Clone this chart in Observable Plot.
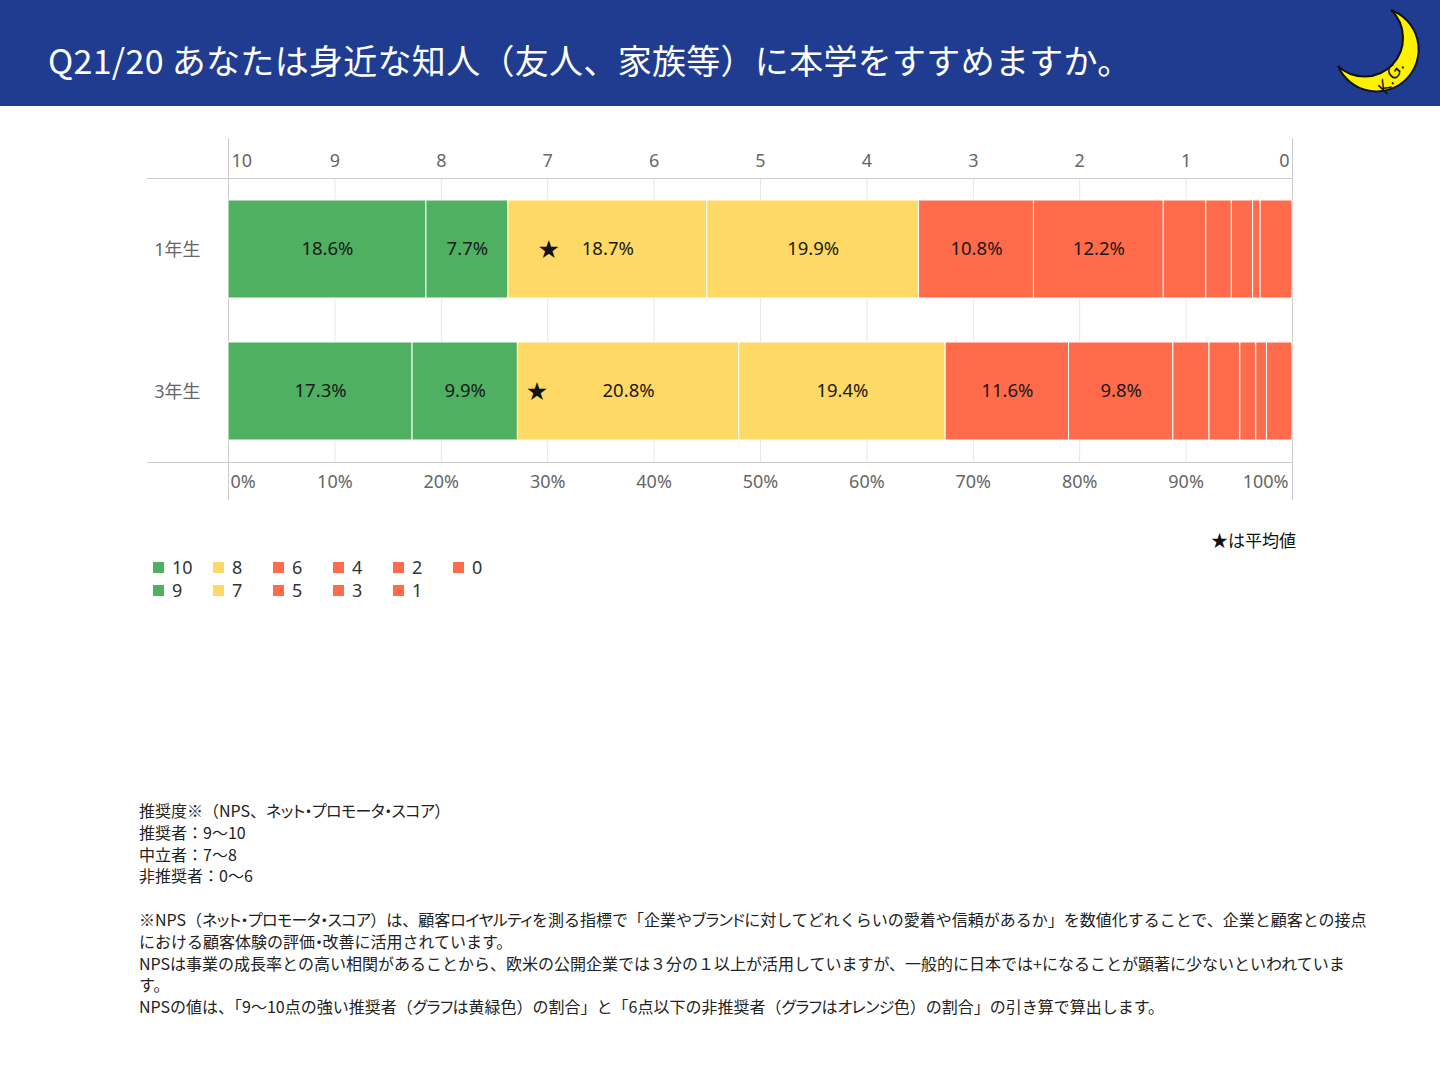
<!DOCTYPE html>
<html>
<head>
<meta charset="utf-8">
<script src="https://cdn.jsdelivr.net/npm/d3@7"></script>
<script src="https://cdn.jsdelivr.net/npm/@observablehq/plot@0.6"></script>
<style>
  html, body { margin: 0; padding: 0; background: #fff; }
  body { width: 1440px; height: 1080px; position: relative; overflow: hidden;
         font-family: "Noto Sans", "Noto Sans CJK JP", sans-serif; }
  #header { position: absolute; left: 0; top: 0; width: 1440px; height: 106px; background: #1f3c91; }
  #title { position: absolute; left: 48px; top: 36px; line-height: 48px; font-size: 34px; letter-spacing: 0.3px; color: #fff;
           font-family: "Noto Sans CJK JP", sans-serif; white-space: nowrap; }
  #logo { position: absolute; left: 0; top: 0; }
  #chart { position: absolute; left: 0; top: 120px; }
  #avgnote { position: absolute; right: 144px; top: 528px; font-size: 17px; line-height: 24px; color: #111;
             font-family: "Noto Sans CJK JP", sans-serif; }
  #legend { position: absolute; left: 153px; top: 556px; }
  .lg { position: absolute; font-size: 18px; line-height: 22px; color: #333; white-space: nowrap; }
  .lg i { display: inline-block; width: 11px; height: 11px; margin-right: 8px; vertical-align: 1px; }
  #notes { position: absolute; left: 139px; top: 800px; font-size: 16px; line-height: 21.8px; color: #222;
           font-family: "Noto Sans CJK JP", sans-serif; }
  #notes div { white-space: nowrap; min-height: 21.8px; }
  #notes .k { font-feature-settings: "palt"; letter-spacing: -0.6px; }
</style>
</head>
<body>
<div id="header">
  <div id="title"></div>
  <svg id="logo" width="1440" height="106">
    <path d="M1391,10 A42,42 0 1 1 1338,66 A38,38 0 0 0 1391,10 Z" fill="#fff200" stroke="#111" stroke-width="2"/>
    <text x="1396" y="80" transform="rotate(-58 1396 80)" font-family="DejaVu Sans" font-size="17" font-style="italic" fill="#111" text-anchor="middle">K.G.</text>
  </svg>
</div>
<div id="chart"></div>
<div id="avgnote">★は平均値</div>
<div id="legend"></div>
<div id="notes"></div>
<script>
// ---- data ----
const titleText = "Q21/20 あなたは身近な知人（友人、家族等）に本学をすすめますか。";
const grades = ["1年生", "3年生"];
const scores = [10, 9, 8, 7, 6, 5, 4, 3, 2, 1, 0];
const values1 = [18.6, 7.7, 18.7, 19.9, 10.8, 12.2, 4.0, 2.4, 2.0, 0.7, 3.0];
const values3 = [17.3, 9.9, 20.8, 19.4, 11.6, 9.8, 3.4, 2.9, 1.5, 1.0, 2.4];
const averages = [6.99, 7.10];
const tickPositions = [0, 10, 20, 30, 40, 50, 60, 70, 80, 90, 100];
const topTickLabels = ["10", "9", "8", "7", "6", "5", "4", "3", "2", "1", "0"];
const bottomTickLabels = ["0%", "10%", "20%", "30%", "40%", "50%", "60%", "70%", "80%", "90%", "100%"];
const avgNote = "★は平均値";
const noteLines = [
  "推奨度※（NPS、ネット・プロモータ・スコア）",
  "推奨者：9～10",
  "中立者：7～8",
  "非推奨者：0～6",
  "",
  "※NPS（ネット・プロモータ・スコア）は、顧客ロイヤルティを測る指標で「企業やブランドに対してどれくらいの愛着や信頼があるか」を数値化することで、企業と顧客との接点",
  "における顧客体験の評価・改善に活用されています。",
  "NPSは事業の成長率との高い相関があることから、欧米の公開企業では３分の１以上が活用していますが、一般的に日本では+になることが顕著に少ないといわれていま",
  "す。",
  "NPSの値は、「9～10点の強い推奨者（グラフは黄緑色）の割合」と「6点以下の非推奨者（グラフはオレンジ色）の割合」の引き算で算出します。"
];

const GREEN = "#4fb062", YELLOW = "#ffd966", RED = "#ff6b4b";
const colorOf = s => s >= 9 ? GREEN : s >= 7 ? YELLOW : RED;

const rows = grades.flatMap((g, gi) => scores.map((s, si) => ({grade: g, score: s, value: [values1, values3][gi][si]})));
const avgRows = grades.map((g, i) => ({grade: g, avg: averages[i]}));
const ticks = tickPositions.map((p, i) => ({p, top: topTickLabels[i], bottom: bottomTickLabels[i]}));
const tMid = ticks.slice(1, -1), tFirst = ticks.slice(0, 1), tLast = ticks.slice(-1);

document.getElementById("title").textContent = titleText;
document.getElementById("avgnote").textContent = avgNote;

const tickStyle = {fill: "#666", fontSize: 18};
const chart = Plot.plot({
  width: 1440,
  height: 400,
  marginLeft: 228,
  marginRight: 148,
  marginTop: 58,
  marginBottom: 58,
  style: {fontFamily: "'Noto Sans', 'Noto Sans CJK JP', sans-serif", background: "white"},
  x: {domain: [0, 100], axis: null},
  y: {domain: grades, paddingInner: 0.31, paddingOuter: 0.155, label: null},
  marks: [
    Plot.ruleX(tMid, {x: "p", stroke: "#e6e6e6"}),
    Plot.frame({anchor: "top", insetLeft: -81, stroke: "#cccccc"}),
    Plot.frame({anchor: "bottom", insetLeft: -81, stroke: "#cccccc"}),
    Plot.ruleX([0, 100], {insetTop: -40, insetBottom: -38, stroke: "#cccccc"}),
    Plot.barX(rows, {x: "value", y: "grade", fill: d => colorOf(d.score), stroke: "white", strokeWidth: 1}),
    Plot.text(rows, Plot.stackX({x: "value", y: "grade", text: d => d.value >= 5 ? d.value.toFixed(1) + "%" : null, fill: "#1a1a1a", fontSize: 18.5})),
    Plot.text(avgRows, {x: d => (10 - d.avg) * 10, y: "grade", text: () => "★", fill: "#111", fontSize: 25, fontFamily: "DejaVu Sans"}),
    Plot.text(tMid, {x: "p", text: "top", frameAnchor: "top", dy: -24, ...tickStyle}),
    Plot.text(tFirst, {x: "p", text: "top", frameAnchor: "top", dy: -24, dx: 3, textAnchor: "start", ...tickStyle}),
    Plot.text(tLast, {x: "p", text: "top", frameAnchor: "top", dy: -24, dx: -3, textAnchor: "end", ...tickStyle}),
    Plot.text(tMid, {x: "p", text: "bottom", frameAnchor: "bottom", dy: 25, ...tickStyle}),
    Plot.text(tFirst, {x: "p", text: "bottom", frameAnchor: "bottom", dy: 25, dx: 2, textAnchor: "start", ...tickStyle}),
    Plot.text(tLast, {x: "p", text: "bottom", frameAnchor: "bottom", dy: 25, dx: -4, textAnchor: "end", ...tickStyle}),
    Plot.axisY({tickSize: 0, tickPadding: 28, fontSize: 18, fill: "#666", label: null, dy: 1})
  ]
});
document.getElementById("chart").appendChild(chart);

// legend: two rows, column-major
const legend = document.getElementById("legend");
scores.forEach((s, i) => {
  const col = Math.floor(i / 2), row = i % 2;
  const el = document.createElement("div");
  el.className = "lg";
  el.style.left = (col * 60) + "px";
  el.style.top = (row * 23) + "px";
  el.innerHTML = `<i style="background:${colorOf(s)}"></i>${s}`;
  legend.appendChild(el);
});

// notes: katakana runs set proportionally, as in the reference
const notes = document.getElementById("notes");
noteLines.forEach(t => {
  const d = document.createElement("div");
  t.split(/([\u30A0-\u30FF]+)/).forEach((part, i) => {
    if (!part) return;
    if (i % 2 === 1) {
      const s = document.createElement("span");
      s.className = "k";
      s.textContent = part;
      d.appendChild(s);
    } else {
      d.appendChild(document.createTextNode(part));
    }
  });
  notes.appendChild(d);
});
</script>
</body>
</html>
